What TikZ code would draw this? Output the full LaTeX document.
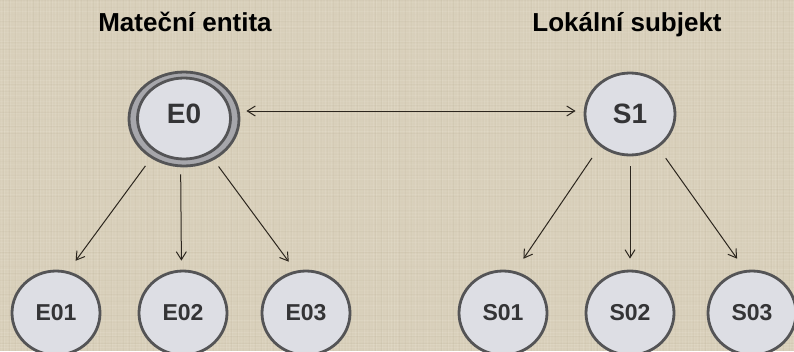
\documentclass[tikz,border=0pt]{standalone}
\usepackage{fontspec}
\setmainfont{Liberation Sans}
\usetikzlibrary{shapes.geometric,arrows.meta}
\definecolor{linen}{RGB}{216,207,186}
\definecolor{threadlight}{RGB}{240,234,220}
\definecolor{threaddark}{RGB}{180,168,142}
\definecolor{nodefill}{RGB}{221,222,228}
\definecolor{nodeedge}{RGB}{84,84,86}
\definecolor{ringfill}{RGB}{166,166,171}
\definecolor{labelgray}{RGB}{52,52,54}
\definecolor{arrowcol}{RGB}{44,38,30}
\tikzset{
  entity/.style={ellipse, draw=nodeedge, line width=2.8pt, fill=nodefill,
    inner sep=0pt, text=labelgray},
  topnode/.style={entity, minimum width=90pt, minimum height=82pt,
    font=\bfseries\fontsize{28}{28}\selectfont},
  leaf/.style={entity, minimum width=88pt, minimum height=84pt,
    font=\bfseries\fontsize{23}{23}\selectfont},
  ring/.style={ellipse, draw=nodeedge, line width=2.8pt, fill=ringfill, inner sep=0pt},
  toplabel/.style={text=labelgray, inner sep=0pt, font=\bfseries\fontsize{28}{28}\selectfont},
  heading/.style={anchor=base, inner sep=0pt, font=\bfseries\fontsize{26}{26}\selectfont, text=black},
  barb/.tip={Straight Barb[length=8pt,width=10pt,line width=1pt]},
  link/.style={draw=arrowcol, line width=1pt, -barb},
  bilink/.style={draw=arrowcol, line width=1pt, barb-barb}
}
\begin{document}
\begin{tikzpicture}[x=1pt,y=-1pt]
  % linen background with a faint woven texture
  \fill[linen] (0,0) rectangle (794,351);
  \useasboundingbox (0,0) rectangle (794,351);
  \pgfmathsetseed{11}
  \foreach \i in {1,4,...,794} {
    \pgfmathsetmacro\op{0.04+0.16*rnd}
    \draw[threadlight, opacity=\op, line width=0.9pt] (\i,0) -- (\i,351);
  }
  \foreach \j in {2,5,...,351} {
    \pgfmathsetmacro\op{0.04+0.16*rnd}
    \draw[threadlight, opacity=\op, line width=0.9pt] (0,\j) -- (794,\j);
  }
  \foreach \i in {3,9,...,794} {
    \pgfmathsetmacro\op{0.03+0.12*rnd}
    \draw[threaddark, opacity=\op, line width=0.7pt] (\i,0) -- (\i,351);
  }
  \foreach \j in {0,7,...,351} {
    \pgfmathsetmacro\op{0.03+0.12*rnd}
    \draw[threaddark, opacity=\op, line width=0.7pt] (0,\j) -- (794,\j);
  }

  % headings
  \node[heading] (hE) at (185,31) {Mateční entita};
  \node[heading] (hS) at (627,31) {Lokální subjekt};

  % parent entity with double outline
  \node[ring, minimum width=110pt, minimum height=94pt] (E0) at (184,119) {};
  \node[entity, minimum width=93pt, minimum height=81pt] (E0in) at (184,118.5) {};
  \node[toplabel] (E0lbl) at (184,113.5) {E0};

  % local subject
  \node[topnode] (S1) at (630,114) {S1};

  % children
  \node[leaf] (E01) at (56,313) {E01};
  \node[leaf] (E02) at (183,313) {E02};
  \node[leaf] (E03) at (306,313) {E03};
  \node[leaf] (S01) at (503,313) {S01};
  \node[leaf] (S02) at (630,313) {S02};
  \node[leaf] (S03) at (752,313) {S03};

  % connectors
  \draw[bilink, shorten <=6pt, shorten >=8pt]
    ([yshift=8pt]E0.east) -- ([yshift=3pt]S1.west);
  \draw[link, shorten <=9.5pt, shorten >=12.9pt] (E0.230.7) -- (E01.74.5);
  \draw[link, shorten <=7pt, shorten >=9pt] (E0.266.3) -- (E02.92.7);
  \draw[link, shorten <=8pt, shorten >=11.3pt] (E0.306.6) -- (E03.104.2);
  \draw[link, shorten <=14.1pt, shorten >=15pt] (S1.227.1) -- (S01.74.1);
  \draw[link, shorten <=10pt, shorten >=11pt] (S1.south) -- (S02.north);
  \draw[link, shorten <=12.9pt, shorten >=14pt] (S1.310.4) -- (S03.99.5);
\end{tikzpicture}
\end{document}
